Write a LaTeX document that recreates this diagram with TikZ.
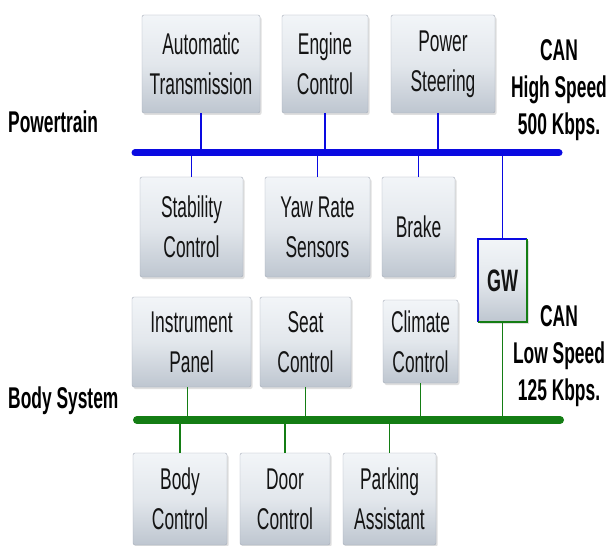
\documentclass[tikz,border=0pt]{standalone}
\usepackage{fontspec}
\usetikzlibrary{positioning, shadows, calc}
\newfontfamily\narrowsans{Liberation Sans}[FakeStretch=0.58]
\definecolor{busblue}{RGB}{10, 10, 225}
\definecolor{busgreen}{RGB}{20, 125, 20}
\definecolor{ecutop}{RGB}{242, 245, 248}
\definecolor{ecubot}{RGB}{190, 198, 208}
\definecolor{ecuedge}{RGB}{165, 172, 184}
\definecolor{inkgray}{RGB}{20, 20, 20}

\begin{document}
\begin{tikzpicture}[x=1pt, y=-1pt,
  ecu/.style={rectangle, rounded corners=2pt, draw=ecuedge, top color=ecutop, bottom color=ecubot,
    middle color=ecutop!70!ecubot, drop shadow={shadow xshift=1.5pt, shadow yshift=-2pt, opacity=0.25},
    align=center, inner sep=0pt, text=inkgray, font=\narrowsans\fontsize{30}{40}\selectfont},
  hsbus/.style={busblue, line width=7pt, line cap=round},
  lsbus/.style={busgreen, line width=8pt, line cap=round},
  hslink/.style={busblue, line width=1.5pt},
  lslink/.style={busgreen, line width=1.5pt},
  buslabel/.style={font=\narrowsans\bfseries\fontsize{30}{37}\selectfont, align=center, inner sep=0pt}]
  \fill[white] (0,0) rectangle (609,545);
  \useasboundingbox (0,0) rectangle (609,545);

  % ECUs on the high speed bus
  \foreach \n/\x/\y/\w/\h/\txt in {at/201/64/118/98/{Automatic\\Transmission},
      ec/325/64/86/98/{Engine\\Control}, ps/443/64/104/98/{Power\\Steering},
      sc/191.5/227/103/100/{Stability\\Control}, yr/317.5/227/105/100/{Yaw Rate\\Sensors},
      br/418.5/227/73/100/{Brake}} {
    \node[ecu, minimum width=\w, minimum height=\h] (\n) at (\x,\y) {\txt};
  }
  % ECUs on the low speed bus
  \foreach \n/\x/\y/\w/\h/\txt in {ip/191.5/342/119/90/{Instrument\\Panel},
      st/305.5/342/91/90/{Seat\\Control}, cc/420.5/341.5/75/83/{Climate\\Control},
      bc/180/499/94/92/{Body\\Control}, dc/285/499/90/92/{Door\\Control},
      pa/389.5/499/93/92/{Parking\\Assistant}} {
    \node[ecu, minimum width=\w, minimum height=\h] (\n) at (\x,\y) {\txt};
  }

  % gateway
  \node[ecu, rounded corners=0pt, draw=none, minimum width=49, minimum height=83,
    font=\narrowsans\bfseries\fontsize{31}{40}\selectfont] (gw) at (502.5,280.5) {GW};
  \draw[busblue, line width=2pt] (gw.south west) -- (gw.north west) -- (gw.north east);
  \draw[busgreen, line width=2pt] (gw.north east) -- (gw.south east) -- (gw.south west);

  \coordinate (hsL) at (135,153);
  \coordinate (hsR) at (559,153);
  \coordinate (lsL) at (137,420);
  \coordinate (lsR) at (560,420);

  \foreach \n in {at, ec} \draw[hslink] (\n.south) -- (\n.south |- hsL);
  \draw[hslink] ([xshift=-5pt]ps.south) -- ([xshift=-5pt]ps.south |- hsL);
  \foreach \n in {sc, yr, br, gw} \draw[hslink] (\n.north) -- (\n.north |- hsL);
  \draw[lslink] ([xshift=-4pt]ip.south) -- ([xshift=-4pt]ip.south |- lsL);
  \foreach \n in {st, cc} \draw[lslink] (\n.south) -- (\n.south |- lsL);
  \draw[lslink] (gw.south) -- (gw.south |- lsL);
  \foreach \n in {bc, dc, pa} \draw[lslink] (\n.north) -- (\n.north |- lsL);

  \draw[hsbus] (hsL) -- (hsR);
  \draw[lsbus] (lsL) -- (lsR);

  \node[buslabel, anchor=base west] (pt) at (8,133) {Powertrain};
  \node[buslabel, anchor=base west] (bs) at (8,408) {Body System};
  \node[buslabel] (hs) at (559,90) {CAN\\High Speed\\500 Kbps.};
  \node[buslabel] (ls) at (559,356) {CAN\\Low Speed\\125 Kbps.};
\end{tikzpicture}
\end{document}
